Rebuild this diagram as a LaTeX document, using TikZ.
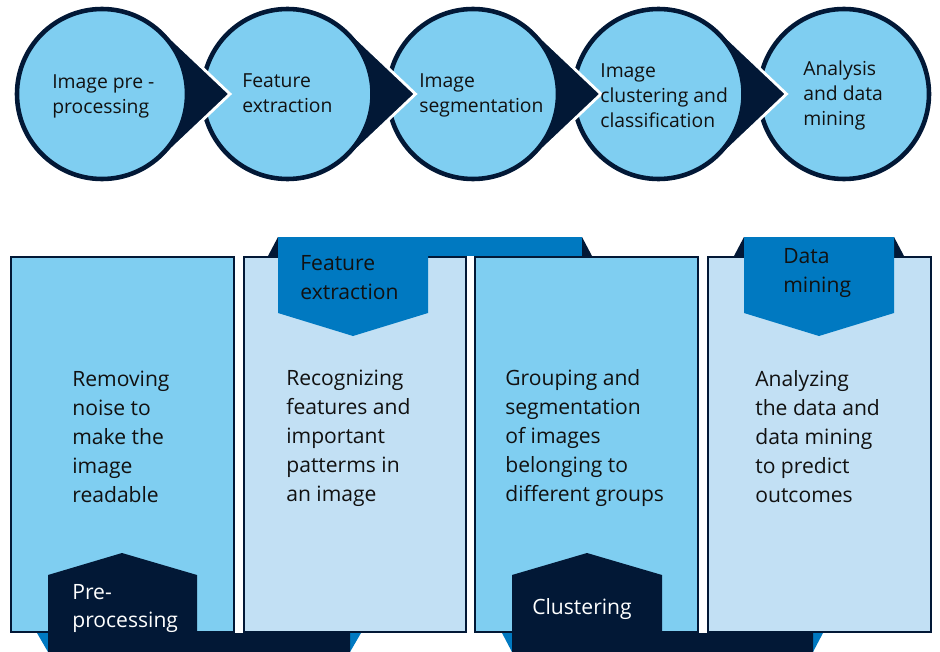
\documentclass[tikz,border=0pt]{standalone}
\usepackage{fontspec}
\setmainfont{Open Sans}
\definecolor{navy}{HTML}{021836}
\definecolor{skyfill}{HTML}{7FCEF1}
\definecolor{palefill}{HTML}{C2E0F4}
\definecolor{tabblue}{HTML}{0079C1}
\definecolor{inktext}{HTML}{111111}

\begin{document}
\begin{tikzpicture}[x=0.02cm, y=-0.02cm,
    stage/.style = {fill = skyfill, draw = navy, line width = 2.6pt},
    pointer/.style = {fill = navy, draw = white, line width = 1.6pt, line join = miter},
    panel/.style = {draw = navy, line width = 1.3pt},
    stagetext/.style = {anchor = west, align = left, inner sep = 0pt, text = inktext,
        font = \fontsize{11}{14.2}\selectfont},
    bodytext/.style = {anchor = west, align = left, inner sep = 0pt, text = inktext,
        font = \fontsize{12}{16.5}\selectfont}]
    \useasboundingbox (0,0) rectangle (940,652);

    % stages, right to left so that each pointer lies over the next circle
    \filldraw [stage] (844,94) circle (85);
    \foreach \cx in {658.5, 473, 287.5, 102} {
        \filldraw [pointer] (\cx,94) -- (\cx+60,29.6) -- (\cx+128,94)
            -- (\cx+60,158.4) -- cycle;
        \filldraw [stage] (\cx,94) circle (85);
    }
    \node [stagetext] (stage1) at (52,96) {Image pre -\\processing};
    \node [stagetext] (stage2) at (242,93) {Feature\\extraction};
    \node [stagetext] (stage3) at (419,95) {Image\\segmentation};
    \node [stagetext] (stage4) at (600,95.5) {Image\\clustering and\\classification};
    \node [stagetext] (stage5) at (803,95.5) {Analysis\\and data\\mining};

    % panels
    \filldraw [panel, fill = skyfill] (11,257) rectangle (234,632);
    \filldraw [panel, fill = palefill] (244,257) rectangle (466,632);
    \filldraw [panel, fill = skyfill] (475,257) rectangle (698,632);
    \filldraw [panel, fill = palefill] (708,257) rectangle (931,632);

    % top tabs
    \fill [navy] (268,256) -- (278,237) -- (278,256) -- cycle;
    \fill [navy] (582,237) -- (592,256) -- (582,256) -- cycle;
    \fill [tabblue] (278,237) rectangle (582,256);
    \fill [tabblue] (278,237) -- (428,237) -- (428,313) -- (353,336) -- (278,313) -- cycle;
    \fill [navy] (734,256) -- (744,237) -- (744,256) -- cycle;
    \fill [navy] (894,237) -- (904,256) -- (894,256) -- cycle;
    \fill [tabblue] (744,237) -- (894,237) -- (894,313) -- (819,336) -- (744,313) -- cycle;

    % bottom tabs
    \fill [tabblue] (37,633) -- (48,633) -- (48,652) -- cycle;
    \fill [tabblue] (350,633) -- (361,633) -- (350,652) -- cycle;
    \fill [navy] (48,652) -- (48,575) -- (122,553) -- (197,575) -- (197,633)
        -- (350,633) -- (350,652) -- cycle;
    \fill [tabblue] (502,633) -- (512,633) -- (512,652) -- cycle;
    \fill [tabblue] (813,633) -- (823,633) -- (813,652) -- cycle;
    \fill [navy] (512,652) -- (512,575) -- (587,553) -- (662,575) -- (662,633)
        -- (813,633) -- (813,652) -- cycle;

    \node [bodytext] (tabfeature) at (300,278) {Feature\\extraction};
    \node [bodytext] (tabmining) at (783,273) {Data\\mining};
    \node [bodytext, text = white] (tabpre) at (72,608.5) {Pre-\\processing};
    \node [bodytext, text = white] (tabcluster) at (532,609) {Clustering};

    \node [bodytext] (body1) at (72,436.5) {Removing\\noise to\\make the\\image\\readable};
    \node [bodytext] (body2) at (286,438) {Recognizing\\features and\\important\\patterms in\\an image};
    \node [bodytext] (body3) at (505,438) {Grouping and\\segmentation\\of images\\belonging to\\different groups};
    \node [bodytext] (body4) at (755,436.5) {Analyzing\\the data and\\data mining\\to predict\\outcomes};
\end{tikzpicture}
\end{document}
